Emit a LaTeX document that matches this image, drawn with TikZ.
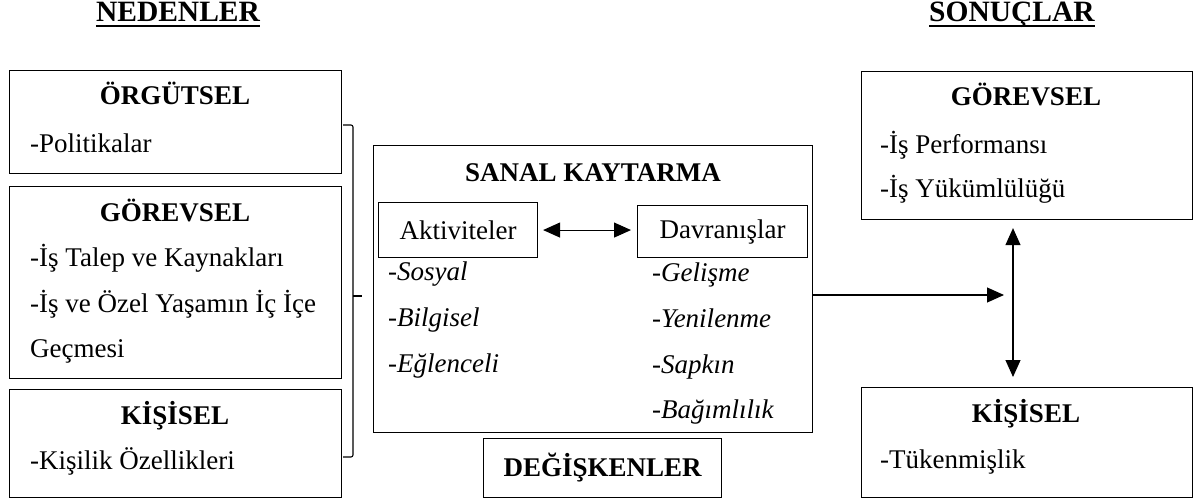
\documentclass[tikz,border=0pt]{standalone}
\usepackage{fontspec}
\setmainfont{Liberation Serif}
\usetikzlibrary{arrows.meta,calc}

\begin{document}
\begin{tikzpicture}[x=1pt,y=-1pt,
  fnt/.style={font=\fontsize{27}{31}\selectfont},
  box/.style={draw,line width=1.1pt,inner sep=0,anchor=north west,fnt},
  txt/.style={inner sep=0,anchor=base west,fnt},
  itm/.style={inner sep=0,anchor=base west,font=\fontsize{27}{31}\selectfont\itshape},
  ttl/.style={inner sep=0,anchor=base,font=\fontsize{27}{31}\selectfont\bfseries},
  head/.style={inner sep=0,anchor=base,font=\fontsize{29.5}{33}\selectfont\bfseries},
  arr/.style={line width=1.1pt,-{Triangle[length=17pt,width=15pt]}},
  darr/.style={line width=1.1pt,{Triangle[length=17pt,width=15pt]}-{Triangle[length=17pt,width=15pt]}},
]
\useasboundingbox (0,0) rectangle (1203,503);

% column headings
\node[head] (ned) at (178,22) {NEDENLER};
\node[head] (son) at (1012,22) {SONUÇLAR};
\draw[line width=2.2pt] ($(ned.base west)+(0,4)$) -- ($(ned.base east)+(0,4)$);
\draw[line width=2.2pt] ($(son.base west)+(0,4)$) -- ($(son.base east)+(0,4)$);

% causes
\node[box,minimum width=332pt,minimum height=103pt] (org) at (9,70) {};
\node[ttl] (orgT) at (175,105) {ÖRGÜTSEL};
\node[txt] (org1) at (30,152) {-Politikalar};

\node[box,minimum width=332pt,minimum height=192pt] (gor) at (9,186) {};
\node[ttl] (gorT) at (175,221) {GÖREVSEL};
\node[txt] (gor1) at (30,266) {-İş Talep ve Kaynakları};
\node[txt] (gor2) at (30,312) {-İş ve Özel Yaşamın İç İçe};
\node[txt] (gor3) at (30,357) {Geçmesi};

\node[box,minimum width=332pt,minimum height=108pt] (kis) at (9,389) {};
\node[ttl] (kisT) at (175,424) {KİŞİSEL};
\node[txt] (kis1) at (30,469) {-Kişilik Özellikleri};

% bracket joining the causes
\coordinate (brkTop) at (343,125);
\coordinate (brkBot) at (343,457);
\coordinate (brkMid) at (353,296);
\draw[line width=1.1pt,rounded corners=2pt] (brkTop) -- (353,125) -- (353,457) -- (brkBot);
\draw[line width=1.1pt] (brkMid) -- ++(9,0);

% cyberloafing
\node[box,minimum width=439pt,minimum height=287pt] (san) at (373,145) {};
\node[ttl] (sanT) at (593,181) {SANAL KAYTARMA};
\node[box,minimum width=159pt,minimum height=55pt] (akt) at (378,202) {Aktiviteler};
\node[box,minimum width=170pt,minimum height=52pt] (dav) at (637,205) {Davranışlar};
\draw[darr] ($(akt.east)+(5,0)$) -- ($(akt.east -| dav.west)+(-6,0)$);

\node[itm] (a1) at (388,280) {-Sosyal};
\node[itm] (a2) at (388,326) {-Bilgisel};
\node[itm] (a3) at (388,372) {-Eğlenceli};

\node[itm] (d1) at (652,281) {-Gelişme};
\node[itm] (d2) at (652,327) {-Yenilenme};
\node[itm] (d3) at (652,373) {-Sapkın};
\node[itm] (d4) at (652,418) {-Bağımlılık};

\node[box,minimum width=238pt,minimum height=59pt,font=\fontsize{27}{31}\selectfont\bfseries] (deg) at (483,438) {DEĞİŞKENLER};

% outcomes
\node[box,minimum width=331pt,minimum height=148pt] (gorS) at (861,71) {};
\node[ttl] (gorST) at (1026,106) {GÖREVSEL};
\node[txt] (gorS1) at (880,153) {-İş Performansı};
\node[txt] (gorS2) at (880,197) {-İş Yükümlülüğü};

\node[box,minimum width=331pt,minimum height=110pt] (kisS) at (861,387) {};
\node[ttl] (kisST) at (1026,422) {KİŞİSEL};
\node[txt] (kisS1) at (880,468) {-Tükenmişlik};

% links
\coordinate (hub) at (1013,295);
\coordinate (hubIn) at (1004,295);
\draw[arr] (san.east |- hubIn) -- (hubIn);
\draw[darr,shorten <=8pt,shorten >=10pt] (gorS.south -| hub) -- (kisS.north -| hub);
\end{tikzpicture}
\end{document}
